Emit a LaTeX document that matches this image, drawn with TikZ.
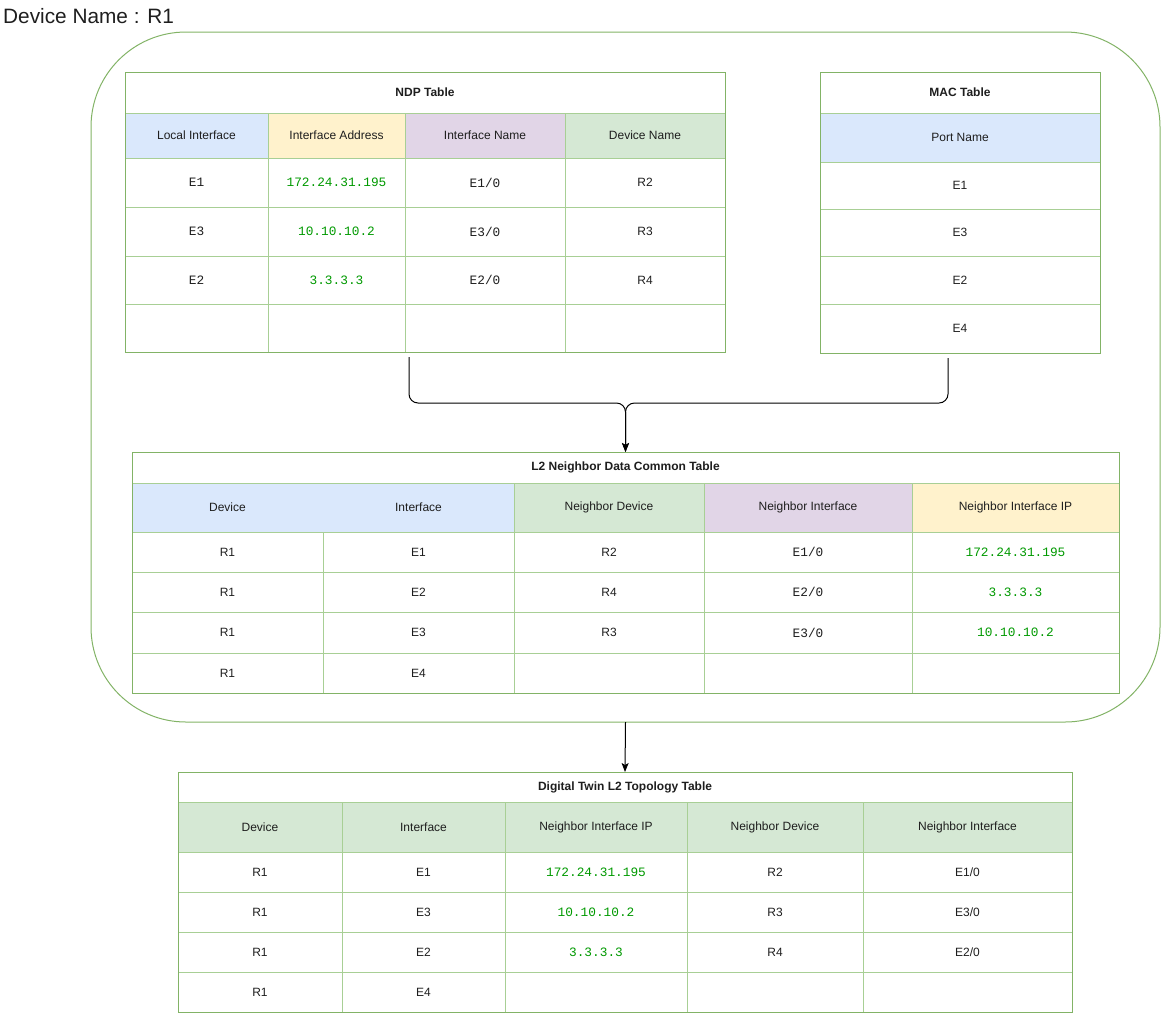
\documentclass[tikz,border=0pt]{standalone}
\usepackage{fontspec}
\setmainfont{Liberation Sans}
\newfontfamily\codefont{Liberation Mono}
\usetikzlibrary{arrows.meta,calc}

\definecolor{frame}{HTML}{82B366}
\definecolor{rule}{HTML}{A8CF95}
\definecolor{hblue}{HTML}{DAE8FC}
\definecolor{hyellow}{HTML}{FFF2CC}
\definecolor{hpurple}{HTML}{E1D5E7}
\definecolor{hgreen}{HTML}{D5E8D4}
\definecolor{ipgreen}{HTML}{009900}
\definecolor{ink}{HTML}{1E1E1E}

\tikzset{
  cell/.style={inner sep=0pt, outer sep=0pt, text=ink, font=\fontsize{12}{14}\selectfont},
  mono/.style={font=\codefont\fontsize{12.8}{14}\selectfont},
  ipaddr/.style={mono, text=ipgreen},
  tabletitle/.style={font=\bfseries\fontsize{12}{14}\selectfont},
  tablebox/.style={draw=frame, line width=1pt, inner sep=0pt, outer sep=0pt},
  gridline/.style={draw=rule, line width=1pt},
  link/.style={draw=black, line width=1pt, rounded corners=9pt},
  tip/.style={-{Stealth[length=9pt,width=7pt,inset=2pt]}}
}

% one table cell: name, x1, y1, x2, y2, options, text
\newcommand\tcell[7]{%
  \pgfmathsetmacro\tcw{#4-#2}\pgfmathsetmacro\tch{#5-#3}%
  \node[cell,minimum width=\tcw pt,minimum height=\tch pt,#6] (#1) at ({(#2+#4)/2},{(#3+#5)/2}) {#7};}

\begin{document}
\begin{tikzpicture}[x=1pt,y=-1pt]
\useasboundingbox (0,0) rectangle (1161,1013);

% heading
\node[anchor=west, text=ink, font=\fontsize{20.8}{24}\selectfont, inner sep=0pt] (devname) at (3,16) {Device Name : R1};

% device container
\node[draw=frame, line width=1pt, rounded corners=95pt, minimum width=1069pt, minimum height=690pt,
      inner sep=0pt, outer sep=0pt] (device) at (625.5,377) {};

% ---------------- NDP table ----------------
\tcell{ndpT}{125}{72}{725}{113}{tabletitle}{NDP Table}
\tcell{ndpH1}{125}{113}{268}{158}{fill=hblue}{Local Interface}
\tcell{ndpH2}{268}{113}{405}{158}{fill=hyellow}{Interface Address}
\tcell{ndpH3}{405}{113}{565}{158}{fill=hpurple}{Interface Name}
\tcell{ndpH4}{565}{113}{725}{158}{fill=hgreen}{Device Name}
\tcell{ndpA1}{125}{158}{268}{207}{mono}{E1}
\tcell{ndpA2}{268}{158}{405}{207}{ipaddr}{172.24.31.195}
\tcell{ndpA3}{405}{158}{565}{207}{mono}{E1/0}
\tcell{ndpA4}{565}{158}{725}{207}{}{R2}
\tcell{ndpB1}{125}{207}{268}{256}{mono}{E3}
\tcell{ndpB2}{268}{207}{405}{256}{ipaddr}{10.10.10.2}
\tcell{ndpB3}{405}{207}{565}{256}{mono}{E3/0}
\tcell{ndpB4}{565}{207}{725}{256}{}{R3}
\tcell{ndpC1}{125}{256}{268}{304}{mono}{E2}
\tcell{ndpC2}{268}{256}{405}{304}{ipaddr}{3.3.3.3}
\tcell{ndpC3}{405}{256}{565}{304}{mono}{E2/0}
\tcell{ndpC4}{565}{256}{725}{304}{}{R4}
\foreach \yy in {113,158,207,256,304} \draw[gridline] (125,\yy) -- (725,\yy);
\foreach \xx in {268,405,565} \draw[gridline] (\xx,113) -- (\xx,352);
\node[tablebox, minimum width=600pt, minimum height=280pt] (ndp) at (425,212) {};

% ---------------- MAC table ----------------
\tcell{macT}{820}{72}{1100}{113}{tabletitle}{MAC Table}
\tcell{macH}{820}{113}{1100}{162}{fill=hblue}{Port Name}
\tcell{macA}{820}{162}{1100}{209}{}{E1}
\tcell{macB}{820}{209}{1100}{256}{}{E3}
\tcell{macC}{820}{256}{1100}{304}{}{E2}
\tcell{macD}{820}{304}{1100}{353}{}{E4}
\foreach \yy in {113,162,209,256,304} \draw[gridline] (820,\yy) -- (1100,\yy);
\node[tablebox, minimum width=280pt, minimum height=281pt] (mac) at (960,212.5) {};

% ---------------- L2 neighbor data common table ----------------
\tcell{l2T}{132}{452}{1119}{483}{tabletitle}{L2 Neighbor Data Common Table}
\tcell{l2H1}{132}{483}{323}{532}{fill=hblue}{Device}
\tcell{l2H2}{323}{483}{514}{532}{fill=hblue}{Interface}
\tcell{l2H3}{514}{483}{704}{532}{fill=hgreen}{Neighbor Device}
\tcell{l2H4}{704}{483}{912}{532}{fill=hpurple}{Neighbor Interface}
\tcell{l2H5}{912}{483}{1119}{532}{fill=hyellow}{Neighbor Interface IP}
\tcell{l2A1}{132}{532}{323}{572}{}{R1}
\tcell{l2A2}{323}{532}{514}{572}{}{E1}
\tcell{l2A3}{514}{532}{704}{572}{}{R2}
\tcell{l2A4}{704}{532}{912}{572}{mono}{E1/0}
\tcell{l2A5}{912}{532}{1119}{572}{ipaddr}{172.24.31.195}
\tcell{l2B1}{132}{572}{323}{612}{}{R1}
\tcell{l2B2}{323}{572}{514}{612}{}{E2}
\tcell{l2B3}{514}{572}{704}{612}{}{R4}
\tcell{l2B4}{704}{572}{912}{612}{mono}{E2/0}
\tcell{l2B5}{912}{572}{1119}{612}{ipaddr}{3.3.3.3}
\tcell{l2C1}{132}{612}{323}{653}{}{R1}
\tcell{l2C2}{323}{612}{514}{653}{}{E3}
\tcell{l2C3}{514}{612}{704}{653}{}{R3}
\tcell{l2C4}{704}{612}{912}{653}{mono}{E3/0}
\tcell{l2C5}{912}{612}{1119}{653}{ipaddr}{10.10.10.2}
\tcell{l2D1}{132}{653}{323}{693}{}{R1}
\tcell{l2D2}{323}{653}{514}{693}{}{E4}
\foreach \yy in {483,532,572,612,653} \draw[gridline] (132,\yy) -- (1119,\yy);
\draw[gridline] (323,532) -- (323,693);
\foreach \xx in {514,704,912} \draw[gridline] (\xx,483) -- (\xx,693);
\node[tablebox, minimum width=987pt, minimum height=241pt] (l2) at (625.5,572.5) {};

% ---------------- Digital twin L2 topology table ----------------
\tcell{dtT}{178}{772}{1072}{802}{tabletitle}{Digital Twin L2 Topology Table}
\tcell{dtH1}{178}{802}{342}{852}{fill=hgreen}{Device}
\tcell{dtH2}{342}{802}{505}{852}{fill=hgreen}{Interface}
\tcell{dtH3}{505}{802}{687}{852}{fill=hgreen}{Neighbor Interface IP}
\tcell{dtH4}{687}{802}{863}{852}{fill=hgreen}{Neighbor Device}
\tcell{dtH5}{863}{802}{1072}{852}{fill=hgreen}{Neighbor Interface}
\tcell{dtA1}{178}{852}{342}{892}{}{R1}
\tcell{dtA2}{342}{852}{505}{892}{}{E1}
\tcell{dtA3}{505}{852}{687}{892}{ipaddr}{172.24.31.195}
\tcell{dtA4}{687}{852}{863}{892}{}{R2}
\tcell{dtA5}{863}{852}{1072}{892}{}{E1/0}
\tcell{dtB1}{178}{892}{342}{932}{}{R1}
\tcell{dtB2}{342}{892}{505}{932}{}{E3}
\tcell{dtB3}{505}{892}{687}{932}{ipaddr}{10.10.10.2}
\tcell{dtB4}{687}{892}{863}{932}{}{R3}
\tcell{dtB5}{863}{892}{1072}{932}{}{E3/0}
\tcell{dtC1}{178}{932}{342}{972}{}{R1}
\tcell{dtC2}{342}{932}{505}{972}{}{E2}
\tcell{dtC3}{505}{932}{687}{972}{ipaddr}{3.3.3.3}
\tcell{dtC4}{687}{932}{863}{972}{}{R4}
\tcell{dtC5}{863}{932}{1072}{972}{}{E2/0}
\tcell{dtD1}{178}{972}{342}{1012}{}{R1}
\tcell{dtD2}{342}{972}{505}{1012}{}{E4}
\foreach \yy in {802,852,892,932,972} \draw[gridline] (178,\yy) -- (1072,\yy);
\foreach \xx in {342,505,687,863} \draw[gridline] (\xx,802) -- (\xx,1012);
\node[tablebox, minimum width=894pt, minimum height=240pt] (twin) at (625,892) {};

% ---------------- connectors ----------------
\coordinate (join) at (625.5,403);
\draw[link, tip] ([xshift=-16pt,yshift=-5pt]ndp.south) |- (join) -- (l2.north);
\draw[link, tip] ([xshift=-12pt,yshift=-5pt]mac.south) |- (join) -- (l2.north);
\draw[link, tip] (device.south) -- (twin.north);
\end{tikzpicture}
\end{document}
